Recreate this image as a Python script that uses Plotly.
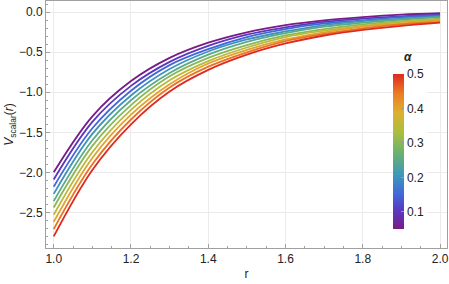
import plotly.graph_objects as go
from plotly.colors import sample_colorscale

r_vals = [1.0, 1.1, 1.2, 1.3, 1.4, 1.5, 1.6, 1.7, 1.8, 1.9, 2.0]
alphas = [0.05, 0.10, 0.15, 0.20, 0.25, 0.30, 0.35, 0.40, 0.45, 0.50]

V_curves = [
    [-2.00, -1.30, -0.86, -0.57, -0.38, -0.25, -0.16, -0.10, -0.06, -0.03, -0.012],
    [-2.09, -1.37, -0.92, -0.62, -0.42, -0.28, -0.19, -0.12, -0.08, -0.05, -0.03],
    [-2.18, -1.45, -0.98, -0.66, -0.46, -0.31, -0.21, -0.14, -0.10, -0.06, -0.04],
    [-2.27, -1.52, -1.04, -0.71, -0.49, -0.34, -0.24, -0.16, -0.11, -0.08, -0.05],
    [-2.36, -1.60, -1.10, -0.76, -0.53, -0.37, -0.26, -0.18, -0.13, -0.09, -0.06],
    [-2.44, -1.67, -1.16, -0.80, -0.57, -0.41, -0.29, -0.21, -0.15, -0.11, -0.08],
    [-2.53, -1.75, -1.22, -0.85, -0.61, -0.44, -0.31, -0.23, -0.17, -0.12, -0.09],
    [-2.62, -1.82, -1.28, -0.90, -0.64, -0.47, -0.34, -0.25, -0.18, -0.14, -0.10],
    [-2.71, -1.90, -1.34, -0.94, -0.68, -0.50, -0.36, -0.27, -0.20, -0.15, -0.12],
    [-2.80, -1.97, -1.40, -0.99, -0.72, -0.53, -0.39, -0.29, -0.22, -0.17, -0.13],
]

cscale = [
    [0.0, "#781C86"], [0.12, "#5A38C0"], [0.22, "#4266D9"], [0.35, "#3E98BA"],
    [0.5, "#6DB36A"], [0.62, "#A8BE40"], [0.75, "#DDB02F"], [0.87, "#EB7E25"],
    [1.0, "#DE2A1F"],
]
cmin, cmax = 0.05, 0.5

fig = go.Figure()
for a, v in zip(alphas, V_curves):
    col = sample_colorscale(cscale, [(a - cmin) / (cmax - cmin)])[0]
    fig.add_trace(go.Scatter(x=r_vals, y=v, mode="lines", line=dict(color=col, width=1.8, shape="spline"),
                             showlegend=False, hoverinfo="skip"))

fig.add_trace(go.Scatter(
    x=[None], y=[None], mode="markers", showlegend=False,
    marker=dict(color=[cmin, cmax], colorscale=cscale, cmin=cmin, cmax=cmax, showscale=True,
                colorbar=dict(
                    x=0.866, xanchor="left", y=0.077, yanchor="bottom", len=0.627, lenmode="fraction",
                    thickness=11, outlinewidth=0, bgcolor="white",
                    tickvals=[0.1, 0.2, 0.3, 0.4, 0.5], ticktext=["0.1", "0.2", "0.3", "0.4", "0.5"],
                    ticks="inside", ticklen=3, tickcolor="#999",
                    tickfont=dict(size=12, color="#222", family="Liberation Sans"),
                    xpad=0, ypad=0,
                ))))

fig.add_annotation(text="<b><i>α</i></b>", x=0.918, y=0.81, xref="paper", yref="paper",
                   showarrow=False, font=dict(size=12, color="#222"))

axis_common = dict(
    showline=True, linecolor="#a0a0a0", linewidth=1, mirror=True,
    ticks="inside", ticklen=4, tickcolor="#a0a0a0",
    showgrid=True, gridcolor="#ebebeb", gridwidth=1, zeroline=False,
    tickfont=dict(size=12, color="#222", family="Liberation Sans"),
)

fig.update_layout(
    width=449, height=284,
    margin=dict(l=46, r=2, t=1, b=36, autoexpand=False),
    plot_bgcolor="white", paper_bgcolor="white",
    font=dict(family="Liberation Sans", size=12, color="#222"),
    xaxis=dict(range=[0.980, 2.018], tickvals=[1.0, 1.2, 1.4, 1.6, 1.8, 2.0], tickformat=".1f",
               title=dict(text="r", font=dict(size=12), standoff=4),
               minor=dict(dtick=0.05, ticks="inside", ticklen=2, tickcolor="#a0a0a0", showgrid=False),
               automargin=False, **axis_common),
    yaxis=dict(range=[-2.946, 0.141], tickvals=[0.0, -0.5, -1.0, -1.5, -2.0, -2.5], tickformat=".1f",
               title=dict(text="<i>V</i><sub>scalar</sub>(<i>r</i>)", font=dict(size=12), standoff=2),
               minor=dict(dtick=0.1, ticks="inside", ticklen=2, tickcolor="#a0a0a0", showgrid=False),
               automargin=False, **axis_common),
)

fig.write_html("out.html", config={"displayModeBar": False},
               post_script="document.body.style.margin='0';document.body.style.padding='0';")
